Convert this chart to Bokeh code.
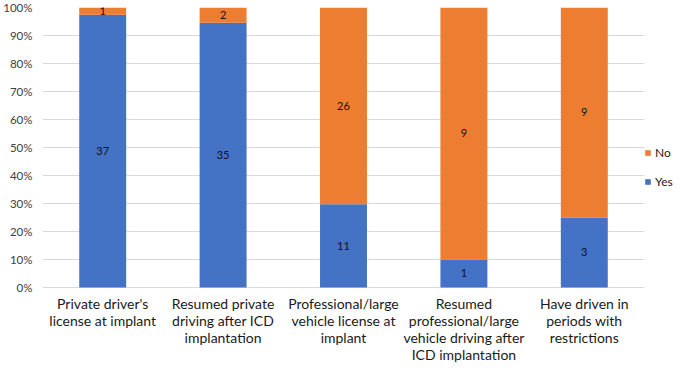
from bokeh.plotting import figure
from bokeh.models import (ColumnDataSource, FactorRange, Range1d, FixedTicker,
                          NumeralTickFormatter, Legend, LegendItem)
from bokeh.core.properties import value
from bokeh.embed import file_html
from bokeh.resources import INLINE

categories = ["Private driver's license at implant",
              "Resumed private driving after ICD implantation",
              "Professional/large vehicle license at implant",
              "Resumed professional/large vehicle driving after ICD implantation",
              "Have driven in periods with restrictions"]
tick_labels = ["Private driver's\nlicense at implant",
               "Resumed private\ndriving after ICD\nimplantation",
               "Professional/large\nvehicle license at\nimplant",
               "Resumed\nprofessional/large\nvehicle driving after\nICD implantation",
               "Have driven in\nperiods with\nrestrictions"]
yes_counts = [37, 35, 11, 1, 3]
no_counts = [1, 2, 26, 9, 9]
y_ticks = [0, 0.1, 0.2, 0.3, 0.4, 0.5, 0.6, 0.7, 0.8, 0.9, 1.0]

BLUE = "#4472C4"
ORANGE = "#ED7D31"
FONT = "Lato"

totals = [y + n for y, n in zip(yes_counts, no_counts)]
yes_pct = [y / t for y, t in zip(yes_counts, totals)]
no_pct = [n / t for n, t in zip(no_counts, totals)]

src = ColumnDataSource(dict(
    cat=categories, yes=yes_pct, no=no_pct,
    yes_mid=[y / 2 for y in yes_pct],
    no_mid=[y + n / 2 for y, n in zip(yes_pct, no_pct)],
    yes_txt=[str(v) for v in yes_counts],
    no_txt=[str(v) for v in no_counts],
    lab=tick_labels,
    zero=[0] * len(categories),
))

FW = 602
p = figure(x_range=FactorRange(*categories), y_range=Range1d(-0.2786, 1),
           frame_width=FW, frame_height=358,
           output_backend="svg", toolbar_location=None,
           min_border_left=30, min_border_right=0, min_border_top=7,
           min_border_bottom=0)

renderers = p.vbar_stack(["yes", "no"], x="cat", width=0.39,
                         color=[BLUE, ORANGE], line_color=None, source=src)

p.text(x="cat", y="yes_mid", text="yes_txt", source=src,
       text_align="center", text_baseline="middle",
       text_font=value(FONT), text_font_size="11px", text_color="#111111")
p.text(x="cat", y="no_mid", text="no_txt", source=src,
       text_align="center", text_baseline="middle",
       text_font=value(FONT), text_font_size="11px", text_color="#111111")

# category labels (multi-line) below the bars
p.text(x="cat", y="zero", text="lab", source=src, y_offset=8,
       text_align="center", text_baseline="top", text_line_height=1.0,
       text_font=value(FONT), text_font_size="14px", text_color="#1a1a1a")

p.outline_line_color = None
p.xgrid.grid_line_color = None
p.ygrid.grid_line_color = "#D9D9D9"
p.ygrid.grid_line_width = 1

p.xaxis.visible = False

p.yaxis.ticker = FixedTicker(ticks=y_ticks)
p.yaxis.formatter = NumeralTickFormatter(format="0%")
p.yaxis.axis_line_color = None
p.yaxis.major_tick_line_color = None
p.yaxis.minor_tick_line_color = None
p.yaxis.major_label_text_font = FONT
p.yaxis.major_label_text_font_size = "11.5px"
p.yaxis.major_label_text_color = "#404040"
p.yaxis.major_label_standoff = 4

legend = Legend(items=[LegendItem(label="No", renderers=[renderers[1]]),
                       LegendItem(label="Yes", renderers=[renderers[0]])],
                location=(0, 176), orientation="vertical",
                padding=0, margin=6, spacing=14,
                glyph_width=7, glyph_height=7, label_standoff=4,
                label_height=14,
                label_text_font=FONT, label_text_font_size="12px",
                label_text_color="#1a1a1a",
                background_fill_alpha=0, border_line_color=None)
p.add_layout(legend, "right")

open("out.html", "w").write(file_html(p, INLINE))
